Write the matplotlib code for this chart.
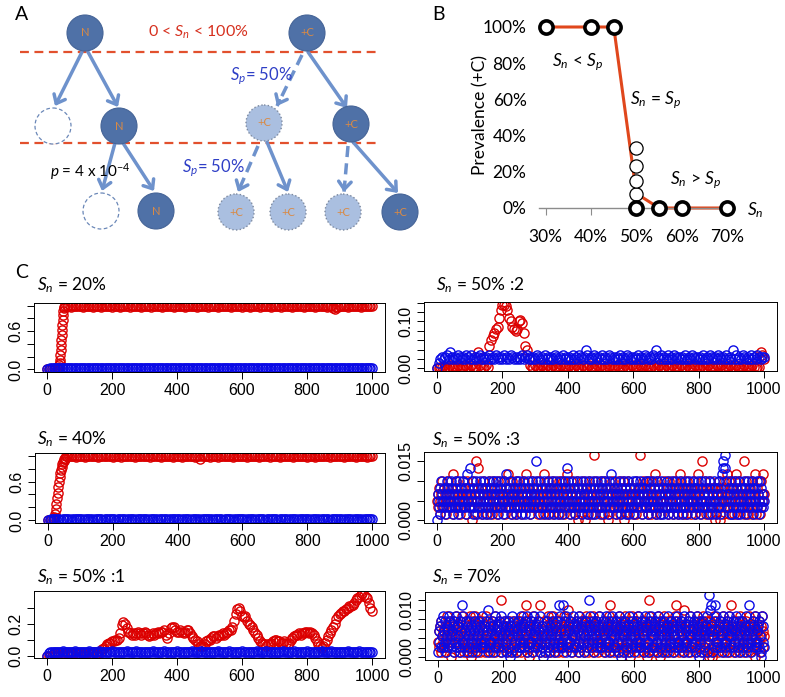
import numpy as np
import matplotlib
matplotlib.use("Agg")
import matplotlib.pyplot as plt
from matplotlib.patches import Circle, FancyArrowPatch

plt.rcParams["mathtext.fontset"] = "custom"
plt.rcParams["mathtext.rm"] = "Lato"
plt.rcParams["mathtext.it"] = "Lato:italic"
plt.rcParams["mathtext.bf"] = "Lato:bold"

W, H = 785, 697
RED = "#dc0000"
BLUE = "#0a0ae6"

# ---------------- panel B data ----------------
B_SN = [30, 40, 45, 50, 55, 60, 70]
B_PREV_LINE = [100, 100, 100, 8, 0, 0, 0]
B_PREV_RUNS = [100, 100, 100, 0, 0, 0, 0]
B_SN_EXTRA = [50, 50, 50, 50]
B_PREV_EXTRA = [8, 15, 23, 33]
B_XTICKS = [30, 40, 50, 60, 70]
B_YTICKS = [0, 20, 40, 60, 80, 100]

# ---------------- panel C data ----------------
# time series are stored as base-36 level codes, one char per sample,
# evenly spaced over 0..1000 (or start..1000 for plateaus)
X_TICKS = [0, 200, 400, 600, 800, 1000]

# Sn = 20%
RED_20_EARLY_T = [0, 5, 10, 15, 20, 25, 30, 36, 37, 38, 39, 40, 41, 42, 43,
                  44, 45, 46, 47, 48, 49, 50, 51, 52]
RED_20_EARLY_V = [0, 0, 0, 0, 0, 0, 0, 0.02, 0.04, 0.07, 0.10, 0.15, 0.22,
                  0.30, 0.38, 0.46, 0.54, 0.62, 0.70, 0.78, 0.86, 0.92, 0.96, 0.97]
RED_20_PLATEAU = ("4545354454 5345454354 4534545453 5445345454 3545445354 "
                  "4543545445 3544545354 4545345445 4354454534 5445354454 "
                  "4534545453 5445345454 3545445354 4543545445 3544545354 "
                  "4545345445 4354410234 5445354454 4534545455")
BLUE_20 = ("0245354645 3546453564 4536454635 5463545364 4536546354 "
           "6453546354 5364536453 4635463546 5364536453 5463546354 "
           "4536453645 6354635463 5463546354 4536453564 3546354635 "
           "4536546354 6354635463 5463546354 4536453564 3546354635 5")

# Sn = 40%
RED_40_EARLY_T = [0, 5, 10, 15, 18, 20, 22, 24, 26, 28, 30, 32, 34, 36, 38,
                  40, 42, 44, 46, 48, 50, 52, 54]
RED_40_EARLY_V = [0, 0, 0, 0, 0.02, 0.05, 0.10, 0.17, 0.25, 0.34, 0.43, 0.52,
                  0.60, 0.67, 0.73, 0.78, 0.83, 0.87, 0.90, 0.92, 0.94, 0.95, 0.96]
RED_40_PLATEAU = ("5454453545 4535445454 3545454453 4545354454 5443545454 "
                  "4535454453 5445453545 4535445454 3540454453 4545354454 "
                  "5443545454 4535454453 5445453545 4535445454 3545454453 "
                  "4545354454 5443545454 4535454453 5445453545")
BLUE_40 = ("0234343423 4343243434 3423434324 3434234343 4324343423 "
           "4343243434 3423434324 3434234343 4324343423 4343243434 "
           "3423434324 3434234343 4324343423 4343243434 3423434324 "
           "3434234343 4324343423 4343243434 3423434324 3434234343 4")

# Sn = 50% :1  (red in percent, every 5 steps)
RED_50_1 = [0, 0, 0, 0, 1, 0, 0, 1, 0, 0, 1, 0, 1, 1, 0, 1, 1, 0, 1, 1,
            1, 0, 1, 1, 1, 0, 1, 1, 1, 2, 1, 1, 2, 2,
            4, 5, 6, 7, 8, 8, 9, 9, 10, 10, 11, 14, 19, 21, 20, 17, 15, 14, 13, 14,
            13, 14, 15, 14, 13, 14, 15, 14, 13, 12, 13, 14, 13, 14, 15, 14, 15, 15, 16, 13,
            11, 14, 17, 18, 18, 16, 15, 15, 16, 15, 14, 15, 16, 16, 14, 12, 11, 10, 9, 7,
            6, 6, 6, 7, 9, 10, 10, 11, 12, 12, 11, 12, 13, 13, 14, 13, 14, 15, 16, 16,
            18, 22, 26, 29, 30, 28, 25, 24, 25, 22, 20, 19, 18, 16, 14, 13, 11, 9, 8, 7,
            7, 6, 7, 7, 8, 9, 10, 10, 9, 9, 8, 8, 9, 8, 7, 8, 10, 11, 12, 13,
            13, 14, 13, 14, 14, 15, 15, 14, 15, 14, 13, 11, 9, 7, 6, 5, 6, 8, 10, 12,
            14, 16, 18, 20, 23, 25, 26, 27, 28, 28, 29, 30, 31, 31, 32, 33, 35, 36, 37, 38,
            39, 38, 37, 36, 33, 30, 28]
BLUE_50_1 = ("0345454545 6454545645 4545456454 5465454545 6454545456 "
             "4545465454 5454564545 4565454545 6454545456 4545465454 "
             "5454564545 4565454545 6454545456 4545465454 5454564545 "
             "4565454545 6454545456 4545465454 5454564545 4565454545 5")

# Sn = 50% :2  (unit 0.004)
RED_50_2 = ("0011010121011201121012101" "9" "210121"
            "cfhjlmrvyyxvrpmlklpqojca52"
            "1021012110201211012101121012110210121101210211012101"
            "2110121012101121021101210121102101211012101210112101"
            "210121101210211012101211012101121011"
            "975")
BLUE_50_2 = ("0356567596 5657656576 5756567565 6575657656 5756576565 "
             "6575675656 5765657565 6576565756 5657565765 6a75657656 "
             "5756576565 6575657656 5657565765 6576a65756 5756576565 "
             "6575657656 5657565765 6576565756 5a57565765 6575657656 6")

# Sn = 50% :3  (unit 1/600, every 2 steps)
RED_50_3 = ("3425314263 5243153624 3524173426 3524312536 4253416342 "
            "4235062413 9385243512 6342531426 3542163425 3146235243 "
            "2436152437 3524613425 3162435243 1536247342 5314263524 "
            "4253162435 2417352436 1524352614 3253426135 2436152437 "
            "3524163425 3142605243 1536240352 4163524315 a362435241 "
            "6352413625 3401524363 2541352463 1524360425 3162453241 "
            "4253162435 a524163425 3614253162 4352716324 5314253624 "
            "3524163425 3162435241 5736241352 4163524315 2436152437 "
            "4253195342 6315243162 5243504152 4630524316 2537241635 "
            "3524163475 3162435241 9536241352 4163527315 2436162437 4")
BLUE_50_3 = ("0342516342 5314263524 3625143526 2413625342 6352417352 "
             "8426315243 6152436251 4362513426 3154263524 6251436253 "
             "4136257342 5261435243 6152436251 4263152436 2514362534 "
             "3695243162 5243615243 6152436251 4362513426 3154263584 "
             "2631524362 5143625342 6152436251 4362513426 3154263524 "
             "6251436253 4136257342 5261435243 6152436251 4263152436 "
             "2514362534 3625143526 2413625342 6352416352 4136251342 "
             "5261435243 6152436251 4263152436 2514362534 3625143526 "
             "2413625342 6352416352 4136251342 5261437893 a862435241 "
             "6152436251 4263152436 2514362534 3625143526 2413625342 3")

# Sn = 70%  (unit 0.0011, every 2 steps)
RED_70 = ("3526174352 6148253746 0537164825 3617452836 1547263518 "
          "0627351846 2735164725 3618452736 1547263815 3627451b36 "
          "4257361547 2636174253 6147253716 48253a7142 0637281546 "
          "3627451a36 2547163728 1536472815 3627154736 2518463725 "
          "9637241536 4726153847 2635174826 1537264816 3627451836 "
          "2547163725 3618a52736 1547263815 3627451836 2537104825 "
          "4627351846 2735164725 0618b52736 1547263815 0627451836 "
          "2547163725 36184a2736 1547263915 3627451836 2537164825 "
          "4627351846 2735104725 0618452736 1547263815 3627451836 "
          "a547163725 3618452736 1547263815 3627450836 2537164825 4")
BLUE_70 = ("1536274825 3716452837 2546173826 4627153a48 2537164725 "
           "3618452736 1547263825 3627451936 2537164825 4627351846 "
           "2735164725 0618452736 1547263825 3627451836 2537164825 "
           "4627351846 2035164725 3618452736 15472a3825 3a27451836 "
           "2537164825 4627351846 2735164725 36b8452736 1547263825 "
           "3627451836 2537164825 4627351846 0735164725 3618452736 "
           "1547263825 3627451836 2537164825 4627351846 2735164725 "
           "3618452736 1547263825 3627451836 2537164825 4627351846 "
           "0735164725 361845c9a6 15472a3825 3627451836 2537164825 "
           "4627351846 2735164725 3618452a36 1547263825 3627401836 2")


def levels(code, unit, start=0.0, base=0.0):
    vals = np.array([int(c, 36) for c in code if not c.isspace()], dtype=float)
    return np.linspace(start, 1000, len(vals)), base + vals * unit


def r_lim(lo, hi):
    pad = 0.04 * (hi - lo)
    return lo - pad, hi + pad


fig = plt.figure(figsize=(W / 100, H / 100), dpi=100)


def px_axes(x0, y0, x1, y1):
    return fig.add_axes([x0 / W, 1 - y1 / H, (x1 - x0) / W, (y1 - y0) / H])


def fig_text(x, y, s, **kw):
    kw.setdefault("fontfamily", "Lato")
    fig.text(x / W, 1 - y / H, s, **kw)


# ---------------- panel A: schematic ----------------
axA = px_axes(0, 0, 440, 262)
axA.set_xlim(0, 440)
axA.set_ylim(262, 0)
axA.axis("off")

DARK, LIGHT, ARROW_C = "#4f71a7", "#aabfe0", "#6e92cc"
nodes = [(85, 33, "dark", "N"), (307, 33, "dark", "+C"),
         (53, 126, "empty", ""), (119, 126, "dark", "N"),
         (264, 123, "light", "+C"), (351, 124, "dark", "+C"),
         (101, 211, "empty", ""), (156, 211, "dark", "N"),
         (236, 212, "light", "+C"), (288, 212, "light", "+C"),
         (343, 212, "light", "+C"), (400, 212, "dark", "+C")]
for x, y, kind, lab in nodes:
    if kind == "dark":
        c = Circle((x, y), 18, fc=DARK, ec="#456497", lw=0.8, zorder=3)
    elif kind == "light":
        c = Circle((x, y), 18, fc=LIGHT, ec="#7d8aa0", lw=1.0, ls=":", zorder=3)
    else:
        c = Circle((x, y), 18, fc="white", ec="#6b88b8", lw=0.9,
                   ls=(0, (3, 2)), zorder=3)
    axA.add_patch(c)
    if lab:
        axA.text(x, y, lab, ha="center", va="center", fontsize=8,
                 color="#d98a45", fontfamily="Lato", zorder=4)

arrows = [((82, 52), (55, 106), False), ((88, 52), (118, 107), False),
          ((115, 143), (102, 191), False), ((123, 143), (154, 191), False),
          ((302, 55), (277, 106), True), ((308, 52), (347, 108), False),
          ((258, 146), (238, 192), True), ((267, 142), (288, 192), False),
          ((348, 146), (344, 192), True), ((353, 142), (398, 193), False)]
HEAD = "->,head_length=5.5,head_width=4.5"
for p0, p1, dashed in arrows:
    if dashed:
        axA.plot([p0[0], p1[0]], [p0[1], p1[1]], color=ARROW_C, lw=2.5,
                 ls=(0, (3.2, 1.8)), solid_capstyle="butt", zorder=2)
        d = np.subtract(p1, p0) / np.hypot(*np.subtract(p1, p0))
        p0 = (p1[0] - d[0] * 6, p1[1] - d[1] * 6)
    axA.add_patch(FancyArrowPatch(p0, p1, arrowstyle=HEAD, mutation_scale=1,
                                  lw=2.5, color=ARROW_C, shrinkA=0, shrinkB=0,
                                  zorder=2))

for yy in (52, 143):
    axA.plot([20, 378], [yy, yy], color="#e2502d", lw=1.6,
             ls=(0, (4, 2.5)), zorder=1)

fig_text(148, 32, r"$\mathit{0}$ < $S_n$ < 100%", color="#d6301e",
         fontsize=11.5, va="center", ha="left")
fig_text(230, 76, r"$S_p$= 50%", color="#2f3fc6", fontsize=12,
         va="center", ha="left")
fig_text(182, 168, r"$S_p$= 50%", color="#2f3fc6", fontsize=12,
         va="center", ha="left")
fig_text(50, 172, r"$p$ = 4 x 10$^{-4}$", color="black", fontsize=11,
         va="center", ha="left")

# ---------------- panel B ----------------
axB = px_axes(539, 27, 731.5, 208)
axB.plot(B_SN, B_PREV_LINE, color="#e0471c", lw=2.2, zorder=2, clip_on=False)
axB.plot(B_SN_EXTRA, B_PREV_EXTRA, "o", ms=9.5, mfc="white", mec="black",
         mew=0.9, zorder=3, clip_on=False)
axB.plot(B_SN, B_PREV_RUNS, "o", ms=9.5, mfc="white", mec="black",
         mew=2.6, zorder=4, clip_on=False)
axB.set_xlim(28.5, 71)
axB.set_ylim(0, 100)
for s in ("left", "top", "right"):
    axB.spines[s].set_visible(False)
axB.spines["bottom"].set_color("#8c8c8c")
axB.spines["bottom"].set_linewidth(1.0)
axB.set_xticks(B_XTICKS, [f"{v}%" for v in B_XTICKS])
axB.set_yticks(B_YTICKS, [f"{v}%" for v in B_YTICKS])
axB.tick_params(axis="x", length=5, color="#8c8c8c", pad=10, labelsize=12.5)
axB.tick_params(axis="y", length=0, pad=9, labelsize=12.5)
for lab in axB.get_xticklabels() + axB.get_yticklabels():
    lab.set_fontfamily("Lato")
fig_text(480, 115, "Prevalence (+C)", rotation=90, fontsize=12.5,
         ha="center", va="center")
fig_text(552, 62, r"$S_n$ < $S_p$", fontsize=12.5, va="center", ha="left")
fig_text(630, 100, r"$S_n$ = $S_p$", fontsize=12.5, va="center", ha="left")
fig_text(670, 180, r"$S_n$ > $S_p$", fontsize=12.5, va="center", ha="left")
fig_text(747, 210, r"$S_n$", fontsize=12.5, va="center", ha="left")

# ---------------- panel C ----------------
def ts_panel(box, title, title_xy, series, yticks, ylabels):
    ax = px_axes(*box)
    for t, v, c in series:
        ax.plot(t, v, "o", ms=6.6, mfc="none", mec=c, mew=1.0)
    allv = np.concatenate([np.asarray(v) for _, v, _ in series])
    ax.set_xlim(-40, 1040)
    ax.set_ylim(*r_lim(allv.min(), allv.max()))
    ax.set_xticks(X_TICKS, [str(x) for x in X_TICKS])
    ax.set_yticks(yticks, ylabels)
    ax.tick_params(length=5, width=0.7, labelsize=11.5, pad=3)
    for lab in ax.get_yticklabels():
        lab.set_rotation(90)
        lab.set_va("center")
    for lab in ax.get_xticklabels() + ax.get_yticklabels():
        lab.set_fontfamily("Liberation Sans")
    for s in ax.spines.values():
        s.set_linewidth(0.7)
    fig_text(title_xy[0], title_xy[1], title, fontsize=12.5, va="center",
             ha="left")
    return ax


def with_early(t_early, v_early, code, start):
    t, v = levels(code, 0.01, start=start, base=0.95)
    return np.r_[t_early, t], np.r_[v_early, v]


t, v = with_early(RED_20_EARLY_T, RED_20_EARLY_V, RED_20_PLATEAU, 55)
tb, vb = levels(BLUE_20, 0.005)
ts_panel((34, 303, 385, 372), r"$S_n$ = 20%", (37, 285),
         [(t, v, RED), (tb, vb, BLUE)],
         [0, 0.2, 0.4, 0.6, 0.8, 1.0], ["0.0", "", "", "0.6", "", ""])

t, v = with_early(RED_40_EARLY_T, RED_40_EARLY_V, RED_40_PLATEAU, 55)
tb, vb = levels(BLUE_40, 0.005)
ts_panel((35, 453, 385, 523), r"$S_n$ = 40%", (37, 439),
         [(t, v, RED), (tb, vb, BLUE)],
         [0, 0.2, 0.4, 0.6, 0.8, 1.0], ["0.0", "", "", "0.6", "", ""])

v = np.array(RED_50_1) / 100.0
t = np.linspace(0, 1000, len(v))
tb, vb = levels(BLUE_50_1, 0.005)
ts_panel((34, 591, 385, 658), r"$S_n$ = 50% :1", (37, 577),
         [(t, v, RED), (tb, vb, BLUE)],
         [0, 0.1, 0.2, 0.3], ["0.0", "", "0.2", ""])

t, v = levels(RED_50_2, 0.004)
tb, vb = levels(BLUE_50_2, 0.004)
ts_panel((424, 302, 777, 371), r"$S_n$ = 50% :2", (436, 285),
         [(t, v, RED), (tb, vb, BLUE)],
         [0, 0.02, 0.04, 0.06, 0.08, 0.10, 0.12, 0.14],
         ["0.00", "", "", "", "", "0.10", "", ""])

t, v = levels(RED_50_3, 1 / 600)
tb, vb = levels(BLUE_50_3, 1 / 600)
ts_panel((424, 452, 777, 523), r"$S_n$ = 50% :3", (432, 440),
         [(t, v, RED), (tb, vb, BLUE)],
         [0, 0.005, 0.010, 0.015], ["0.000", "", "", "0.015"])

t, v = levels(RED_70, 0.0011)
tb, vb = levels(BLUE_70, 0.0011)
ts_panel((425, 592, 777, 660), r"$S_n$ = 70%", (432, 577),
         [(t, v, RED), (tb, vb, BLUE)],
         [0, 0.002, 0.004, 0.006, 0.008, 0.010, 0.012],
         ["0.000", "", "", "", "", "0.010", ""])

# panel letters
fig_text(22, 14, "A", fontsize=14, ha="center", va="center")
fig_text(438, 14, "B", fontsize=14, ha="center", va="center")
fig_text(22, 272, "C", fontsize=14, ha="center", va="center")

fig.savefig("out.png", dpi=100, facecolor="white")
